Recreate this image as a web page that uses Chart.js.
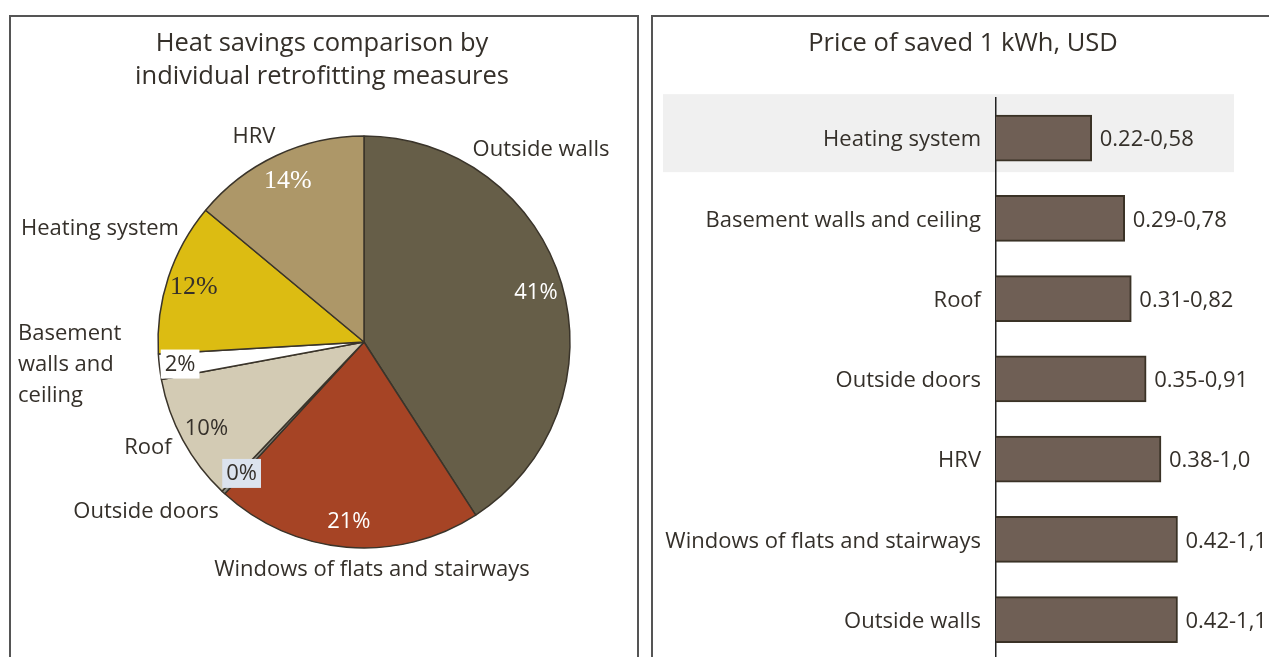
<!DOCTYPE html>
<html>
<head>
<meta charset="utf-8">
<title>Heat savings and price of saved kWh</title>
<script src="https://cdn.jsdelivr.net/npm/chart.js@4.4.1/dist/chart.umd.min.js"></script>
<style>
    body { margin: 0; background: #fff; width: 1269px; height: 657px; overflow: hidden; position: relative; }
    .panel { position: absolute; border: 2px solid #555; box-sizing: content-box; }
    #leftPanel { left: 9px; top: 15px; width: 626px; height: 700px; }
    #rightPanel { left: 651px; top: 15px; width: 660px; height: 700px; }
    .panel canvas { position: absolute; left: 0; top: 0; }
</style>
</head>
<body>
<div class="panel" id="leftPanel"><canvas id="pieChart" width="626" height="640"></canvas></div>
<div class="panel" id="rightPanel"><canvas id="barChart" width="620" height="671"></canvas></div>

<script>
// Pie: heat savings share by measure (clockwise from the top)
const pieCategories = ['Outside walls', 'Windows of flats and stairways', 'Outside doors', 'Roof',
    'Basement walls and ceiling', 'Heating system', 'HRV'];
const pieValues = [41, 21, 0.3, 10, 2, 12, 14];
const pieValueLabels = ['41%', '21%', '0%', '10%', '2%', '12%', '14%'];

// Bars: price of saved 1 kWh, USD (upper bound drawn, range as label)
const barCategories = ['Heating system', 'Basement walls and ceiling', 'Roof', 'Outside doors',
    'HRV', 'Windows of flats and stairways', 'Outside walls'];
const barValues = [0.58, 0.78, 0.82, 0.91, 1.0, 1.1, 1.1];
const barRangeLabels = ['0.22-0,58', '0.29-0,78', '0.31-0,82', '0.35-0,91', '0.38-1,0', '0.42-1,1', '0.42-1,1'];

const SANS = '"Open Sans", Lato, sans-serif';
const SERIF = '"Liberation Serif", "DejaVu Serif", serif';
const TEXT = '#35302a';
const LABEL_SIZE = 22;
const TITLE_SIZE = 25.5;
const TEXT_DY = 2; // Open Sans sits a bit high with 'middle' baseline

const sliceColors = ['#665e48', '#a64425', '#8a8a80', '#d3cbb4', '#ffffff', '#dcbc12', '#ad9768'];

// how each percentage label looks
const pctStyle = [
    { font: SANS, size: 22, color: '#ffffff' },
    { font: SANS, size: 22, color: '#ffffff' },
    { font: SANS, size: 22, color: TEXT, bg: '#dce3ee' },
    { font: SANS, size: 22, color: TEXT },
    { font: SANS, size: 22, color: TEXT, bg: '#ffffff', shift: -6 },
    { font: SERIF, size: 26, color: TEXT },
    { font: SERIF, size: 26, color: '#ffffff' }
];

// where the category names sit, relative to pie centre
const outerLabelPos = [
    { dx: 177, dy: -194, align: 'center', lines: ['Outside walls'] },
    { dx: 8, dy: 226, align: 'center', lines: ['Windows of flats and stairways'] },
    { dx: -218, dy: 168, align: 'center', lines: ['Outside doors'] },
    { dx: -216, dy: 104, align: 'center', lines: ['Roof'] },
    { dx: -346, dy: -10, align: 'left', lines: ['Basement', 'walls and', 'ceiling'] },
    { dx: -264, dy: -115, align: 'center', lines: ['Heating system'] },
    { dx: -110, dy: -207, align: 'center', lines: ['HRV'] }
];

function drawTitle(ctx, lines, x, y, lineH) {
    ctx.save();
    ctx.font = TITLE_SIZE + 'px ' + SANS;
    ctx.fillStyle = TEXT;
    ctx.textAlign = 'center';
    ctx.textBaseline = 'middle';
    lines.forEach((l, i) => ctx.fillText(l, x, y + i * lineH));
    ctx.restore();
}

const pieLabelsPlugin = {
    id: 'pieLabels',
    afterDatasetsDraw(chart) {
        const ctx = chart.ctx;
        const arcs = chart.getDatasetMeta(0).data;
        arcs.forEach((arc, i) => {
            const { x, y, startAngle, endAngle, outerRadius } = arc.getProps(['x', 'y', 'startAngle', 'endAngle', 'outerRadius'], true);
            const mid = (startAngle + endAngle) / 2;
            const st = pctStyle[i];
            const px = x + Math.cos(mid) * outerRadius * 0.87 + (st.shift || 0);
            const py = y + Math.sin(mid) * outerRadius * 0.87;
            ctx.save();
            ctx.font = st.size + 'px ' + st.font;
            ctx.textAlign = 'center';
            ctx.textBaseline = 'middle';
            if (st.bg) {
                const w = ctx.measureText(pieValueLabels[i]).width + 8;
                ctx.fillStyle = st.bg;
                ctx.fillRect(px - w / 2, py - 14, w, 29);
            }
            ctx.fillStyle = st.color;
            ctx.fillText(pieValueLabels[i], px, py + 1);
            ctx.restore();

            // category name
            const pos = outerLabelPos[i];
            ctx.save();
            ctx.font = LABEL_SIZE + 'px ' + SANS;
            ctx.fillStyle = TEXT;
            ctx.textAlign = pos.align;
            ctx.textBaseline = 'middle';
            pos.lines.forEach((l, k) => ctx.fillText(l, x + pos.dx, y + pos.dy + k * 31 + TEXT_DY));
            ctx.restore();
        });
        drawTitle(ctx, ['Heat savings comparison by', 'individual retrofitting measures'], 311, 25 + TEXT_DY, 33);
    }
};

const barExtrasPlugin = {
    id: 'barExtras',
    beforeDraw(chart) {
        // light band behind the first row
        const ctx = chart.ctx;
        const c = chart.scales.y.getPixelForValue(0);
        ctx.save();
        ctx.fillStyle = '#f0f0f0';
        ctx.fillRect(10, c - 44, 571, 78);
        ctx.restore();
    },
    afterDatasetsDraw(chart) {
        const ctx = chart.ctx;
        const meta = chart.getDatasetMeta(0);
        ctx.save();
        ctx.font = LABEL_SIZE + 'px ' + SANS;
        ctx.fillStyle = TEXT;
        ctx.textAlign = 'left';
        ctx.textBaseline = 'middle';
        meta.data.forEach((bar, i) => {
            ctx.fillText(barRangeLabels[i], bar.x + 8, bar.y + TEXT_DY);
        });
        ctx.restore();
        drawTitle(ctx, ['Price of saved 1 kWh, USD'], 310, 25 + TEXT_DY, 0);
    }
};

function initializeCharts() {
    const pieCtx = document.getElementById('pieChart').getContext('2d');
    new Chart(pieCtx, {
        type: 'pie',
        data: {
            labels: pieCategories,
            datasets: [{
                data: pieValues,
                backgroundColor: sliceColors,
                borderColor: '#3a342a',
                borderWidth: 1.5,
                radius: 206
            }]
        },
        options: {
            responsive: false,
            animation: false,
            layout: { padding: { left: 147, right: 67, top: 119, bottom: 109 } },
            plugins: { legend: { display: false }, tooltip: { enabled: false } }
        },
        plugins: [pieLabelsPlugin]
    });

    const barCtx = document.getElementById('barChart').getContext('2d');
    new Chart(barCtx, {
        type: 'bar',
        data: {
            labels: barCategories,
            datasets: [{
                data: barValues,
                backgroundColor: '#6f5f55',
                borderColor: '#3a3226',
                borderWidth: 2,
                borderSkipped: 'left',
                barThickness: 46
            }]
        },
        options: {
            indexAxis: 'y',
            responsive: false,
            animation: false,
            layout: { padding: { left: 0, right: 46, top: 81, bottom: 8 } },
            scales: {
                x: { display: false, min: 0, max: 1.4 },
                y: {
                    afterFit(scale) { scale.width = 343; },
                    grid: { display: false, drawTicks: false },
                    border: { display: true, color: '#222', width: 1.5 },
                    ticks: { padding: 15, labelOffset: TEXT_DY, color: TEXT, font: { family: 'Open Sans', size: LABEL_SIZE } }
                }
            },
            plugins: { legend: { display: false }, tooltip: { enabled: false } }
        },
        plugins: [barExtrasPlugin]
    });
}

initializeCharts();
</script>
</body>
</html>
